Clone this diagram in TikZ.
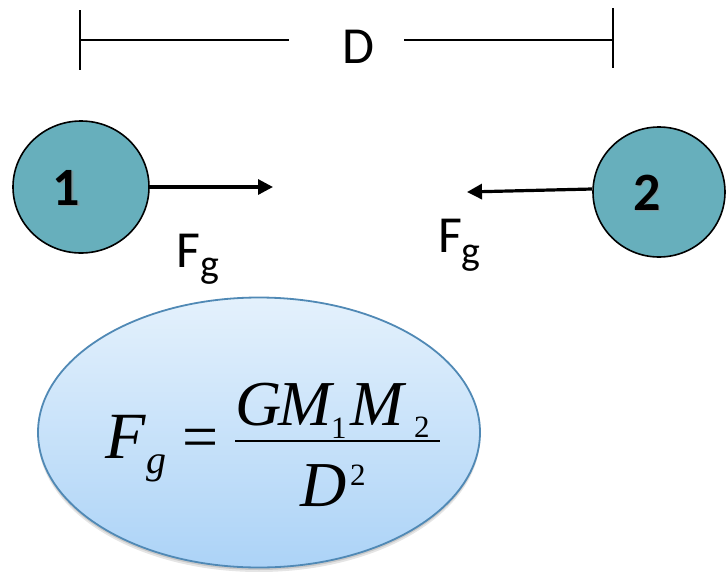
\documentclass[tikz,border=0pt]{standalone}
\usepackage{fontspec}
\setmainfont{Carlito}
\newfontfamily\tms{Liberation Serif}
\usetikzlibrary{shapes.geometric,arrows.meta}
\definecolor{ballfill}{HTML}{67AFBC}
\definecolor{elltop}{HTML}{E4F1FC}
\definecolor{ellbot}{HTML}{ACD3F7}
\definecolor{elledge}{HTML}{5089B5}
\tikzset{
  ball/.style={ellipse,draw=black,line width=1.6pt,fill=ballfill,inner sep=0pt},
  ballnum/.style={inner sep=0pt,anchor=base,font=\fontsize{54}{54}\selectfont\bfseries},
  sanslbl/.style={inner sep=0pt,anchor=base west,font=\fontsize{52}{52}\selectfont},
  sanssub/.style={inner sep=0pt,anchor=base west,font=\fontsize{40}{40}\selectfont},
  dimline/.style={line width=1.5pt},
  force/.style={line width=3.2pt,-{Triangle[length=15pt,width=15pt]}},
  mbig/.style={inner sep=0pt,anchor=base west,font=\tms\fontsize{64}{64}\selectfont\itshape},
  msub/.style={inner sep=0pt,anchor=base west,font=\tms\fontsize{31}{31}\selectfont},
}
\begin{document}
\begin{tikzpicture}[x=1pt,y=-1pt]
\useasboundingbox (0,0) rectangle (726,571);
% dimension line
\coordinate (tl1) at (80,10);
\coordinate (tl2) at (80,70);
\coordinate (ll1) at (80,40);
\coordinate (ll2) at (289,40);
\coordinate (rl1) at (404,40);
\coordinate (rl2) at (613,40);
\coordinate (tr1) at (613,8);
\coordinate (tr2) at (613,68);
\draw[dimline] (tl1) -- (tl2);
\draw[dimline] (ll1) -- (ll2);
\draw[dimline] (rl1) -- (rl2);
\draw[dimline] (tr1) -- (tr2);
\node[inner sep=0pt,anchor=base,font=\fontsize{52}{52}\selectfont] (dlab) at (358,63) {D};
% balls
\node[ball,minimum width=136pt,minimum height=132pt] (c1) at (81,187) {};
\node[ball,minimum width=132pt,minimum height=130pt] (c2) at (659,192) {};
\node[ballnum,text=black!45,opacity=0.6] (n1s) at (68,206.5) {1};
\node[ballnum] (n1) at (66.5,205) {1};
\node[ballnum,text=black!45,opacity=0.6] (n2s) at (648.5,211.5) {2};
\node[ballnum] (n2) at (647,210) {2};
% forces
\coordinate (a1) at (273,187);
\coordinate (a2) at (467,192);
\draw[force] (c1.east) -- (a1);
\draw[force] ([yshift=3pt]c2.west) -- (a2);
\node[sanslbl] (f1) at (176,267) {F};
\node[sanssub] (g1) at (200,277) {g};
\node[sanslbl] (f2) at (438,252) {F};
\node[sanssub] (g2) at (461,264) {g};
% formula ellipse
\fill[black,opacity=0.10] (259,437) ellipse [x radius=221pt,y radius=135pt];
\fill[black,opacity=0.12] (259,435) ellipse [x radius=221pt,y radius=135pt];
\node[ellipse,draw=elledge,line width=1.8pt,top color=elltop,bottom color=ellbot,
      minimum width=442pt,minimum height=270pt,inner sep=0pt] (ell) at (259,432.5) {};
\node[mbig,font=\tms\fontsize{66}{66}\selectfont\itshape] (mF) at (105,458) {F};
\node[mbig,font=\tms\fontsize{40}{40}\selectfont\itshape] (mg) at (146,473) {g};
\node[inner sep=0pt,font=\tms\fontsize{64}{64}\selectfont] (meq) at (201,444) {=};
\coordinate (bar1) at (235,441);
\coordinate (bar2) at (440,441);
\draw[line width=2.6pt] (bar1) -- (bar2);
\node[mbig] (mG) at (235,425) {G};
\node[mbig] (mM1) at (278,425) {M};
\node[msub] (ms1) at (331,438) {1};
\node[mbig] (mM2) at (350,425) {M};
\node[msub] (ms2) at (414,437) {2};
\node[mbig] (mD) at (300,506) {D};
\node[msub] (msup) at (350,485) {2};
\end{tikzpicture}
\end{document}
